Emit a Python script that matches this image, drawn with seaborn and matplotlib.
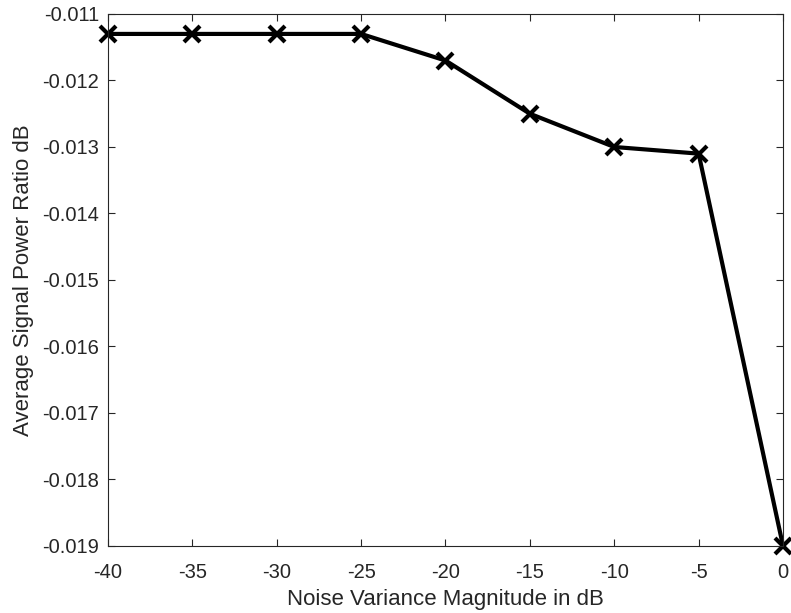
import matplotlib
matplotlib.use("Agg")
import matplotlib.pyplot as plt
import seaborn as sns
import pandas as pd

# Noise variance sweep (dB) and the resulting average signal power ratio (dB)
noise_db = [-40, -35, -30, -25, -20, -15, -10, -5, 0]
power_ratio_db = [-0.0113, -0.0113, -0.0113, -0.0113, -0.0117,
                  -0.0125, -0.0130, -0.0131, -0.0190]

x_ticks = [-40, -35, -30, -25, -20, -15, -10, -5, 0]
y_ticks = [-0.019, -0.018, -0.017, -0.016, -0.015, -0.014, -0.013, -0.012, -0.011]
y_ticklabels = ["-0.019", "-0.018", "-0.017", "-0.016", "-0.015",
                "-0.014", "-0.013", "-0.012", "-0.011"]

df = pd.DataFrame({"noise": noise_db, "ratio": power_ratio_db})

sns.set_theme(style="white")
plt.rcParams["font.family"] = ["Liberation Sans", "DejaVu Sans"]

fig = plt.figure(figsize=(7.91, 6.13), dpi=100)
ax = fig.add_axes([0.1365, 0.1093, 0.8534, 0.8679])

sns.lineplot(data=df, x="noise", y="ratio", ax=ax, color="black",
             linewidth=3.0, marker="x", markersize=11,
             markeredgewidth=3.0, markeredgecolor="black")

ax.set_xlim(-40, 0)
ax.set_ylim(-0.019, -0.011)
ax.set_xticks(x_ticks)
ax.set_xticklabels([str(v) for v in x_ticks])
ax.set_yticks(y_ticks)
ax.set_yticklabels(y_ticklabels)

edge = "#262626"
for s in ax.spines.values():
    s.set_visible(True)
    s.set_color(edge)
    s.set_linewidth(0.8)

ax.tick_params(axis="both", which="both", direction="in", length=5,
               width=0.8, color=edge, labelcolor=edge, labelsize=14.5,
               top=True, right=True, bottom=True, left=True)
ax.tick_params(axis="y", pad=6.5)
ax.tick_params(axis="x", pad=12)

ax.set_xlabel("Noise Variance Magnitude in dB", fontsize=16, color=edge, labelpad=5)
ax.set_ylabel("Average Signal Power Ratio dB", fontsize=16, color=edge, labelpad=6)

for m in ax.lines:
    m.set_clip_on(False)

fig.savefig("out.png", dpi=100)
